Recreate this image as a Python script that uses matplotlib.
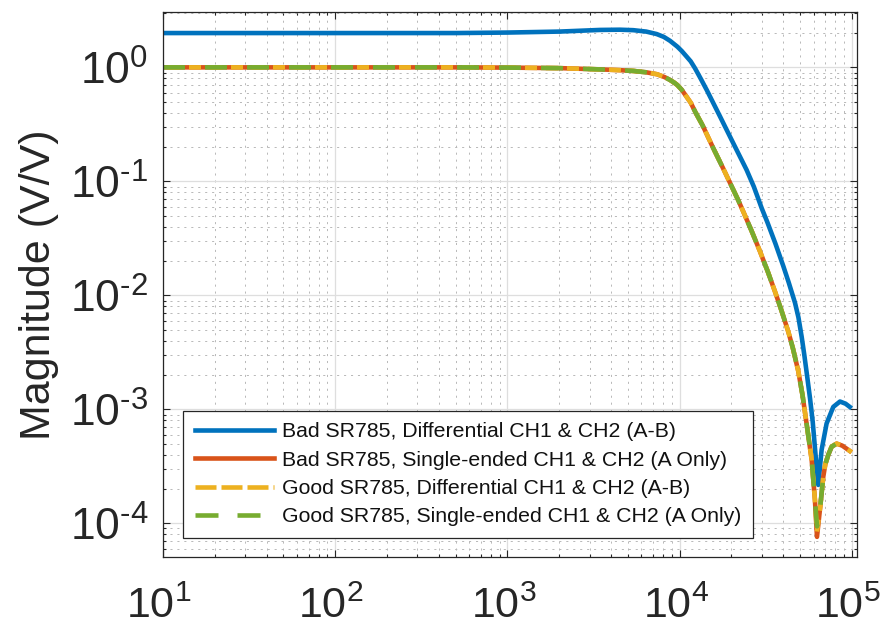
import matplotlib
matplotlib.use("Agg")
import matplotlib.pyplot as plt
import matplotlib.transforms as mtransforms
from matplotlib.lines import Line2D
from matplotlib.ticker import LogLocator, FixedLocator, FixedFormatter, NullFormatter

# ---------------- data ----------------
freq_bad_diff = [10, 100, 500, 1000, 2000, 3450, 4500, 5380, 6400, 7360, 8100, 8800,
                 9700, 10300, 11000, 11600, 12300, 13300, 14400, 17200, 20500, 24500,
                 27000, 30000, 32300, 36000, 40000, 43000, 46800, 49000, 51200, 53000,
                 54700, 57200, 59300, 61100, 63000, 63900, 66800, 71400, 78100, 85400,
                 92000, 99800]
mag_bad_diff = [2.0, 2.0, 2.0, 2.02, 2.06, 2.13, 2.14, 2.12, 2.06, 1.96, 1.85, 1.71,
                1.52, 1.39, 1.24, 1.13, 0.98, 0.79, 0.63, 0.369, 0.216, 0.126,
                0.0897, 0.058, 0.044, 0.0285, 0.0181, 0.013, 0.0086, 0.0064, 0.0043,
                0.0030, 0.0021, 0.00125, 0.00078, 0.00046, 0.000265, 0.000217,
                0.00044, 0.00075, 0.00105, 0.00117, 0.00112, 0.00102]

freq_se = [10, 100, 500, 1000, 2000, 3450, 4500, 5400, 6400, 7400, 8200, 8800, 9300,
           9700, 10300, 11000, 11600, 12400, 13600, 15700, 17900, 19200, 21900, 23500,
           26200, 29300, 32500, 35800, 39000, 42800, 45500, 48900, 51800, 54700, 58500,
           61100, 62800, 65600, 68300, 70200, 73100, 76400, 81700, 88000, 99800]
mag_bad_se = [1.0, 1.0, 1.0, 0.995, 0.985, 0.96, 0.945, 0.93, 0.905, 0.87, 0.82, 0.775,
              0.735, 0.70, 0.635, 0.55, 0.49, 0.40, 0.31, 0.195, 0.13, 0.104, 0.0684,
              0.0537, 0.0367, 0.0243, 0.0162, 0.0108, 0.0074, 0.00479, 0.00343,
              0.00216, 0.00132, 0.00074, 0.00036, 0.00016, 7.6e-5, 1.4e-4, 2.56e-4,
              3.3e-4, 4.0e-4, 4.7e-4, 5.0e-4, 4.8e-4, 4.2e-4]
mag_good_diff = [1.0, 1.0, 1.0, 0.995, 0.985, 0.96, 0.945, 0.93, 0.905, 0.87, 0.82, 0.775,
                 0.735, 0.70, 0.635, 0.55, 0.49, 0.40, 0.31, 0.195, 0.13, 0.104, 0.0684,
                 0.0537, 0.0367, 0.0243, 0.0162, 0.0108, 0.0074, 0.00479, 0.00343,
                 0.00216, 0.00132, 0.00074, 0.00036, 0.00016, 8.4e-5, 1.4e-4, 2.56e-4,
                 3.3e-4, 4.0e-4, 4.7e-4, 5.0e-4, 4.8e-4, 4.2e-4]
mag_good_se = [1.0, 1.0, 1.0, 0.995, 0.985, 0.96, 0.945, 0.93, 0.905, 0.87, 0.82, 0.775,
               0.735, 0.70, 0.635, 0.55, 0.49, 0.40, 0.31, 0.195, 0.13, 0.104, 0.0684,
               0.0537, 0.0367, 0.0243, 0.0162, 0.0108, 0.0074, 0.00479, 0.00343,
               0.00216, 0.00132, 0.00074, 0.00036, 0.00016, 9.4e-5, 1.4e-4, 2.56e-4,
               3.3e-4, 4.0e-4, 4.7e-4, 5.0e-4, 4.8e-4, 4.2e-4]

labels = ["Bad SR785, Differential CH1 & CH2 (A-B)",
          "Bad SR785, Single-ended CH1 & CH2 (A Only)",
          "Good SR785, Differential CH1 & CH2 (A-B)",
          "Good SR785, Single-ended CH1 & CH2 (A Only)"]
xtick_vals = [1e1, 1e2, 1e3, 1e4, 1e5]
xtick_labels = ["$10^{1}$", "$10^{2}$", "$10^{3}$", "$10^{4}$", "$10^{5}$"]
ytick_vals = [1e-4, 1e-3, 1e-2, 1e-1, 1e0]
ytick_labels = ["$10^{\u20104}$", "$10^{\u20103}$", "$10^{\u20102}$",
                "$10^{\u20101}$", "$10^{0}$"]

# ---------------- style ----------------
plt.rcParams['font.family'] = ['Liberation Sans', 'DejaVu Sans']
plt.rcParams['mathtext.fontset'] = 'custom'
plt.rcParams['mathtext.rm'] = 'Liberation Sans'
plt.rcParams['mathtext.it'] = 'Liberation Sans'
plt.rcParams['mathtext.bf'] = 'Liberation Sans'
plt.rcParams['lines.scale_dashes'] = False

c_blue, c_red, c_yel, c_grn = '#0072BD', '#D95319', '#EDB120', '#77AC30'
axcol = '#262626'
px = 0.72  # points per pixel at dpi 100
lw = 3.3

fig = plt.figure(figsize=(8.85, 6.29), dpi=100)
ax = fig.add_axes([163/885, 1 - 557/629, (856.7-163)/885, (557-12)/629])
ax.set_xscale('log')
ax.set_yscale('log')

ax.plot(freq_bad_diff, mag_bad_diff, color=c_blue, lw=lw, solid_capstyle='butt')
ax.plot(freq_se, mag_bad_se, color=c_red, lw=lw, solid_capstyle='butt')
ax.plot(freq_se, mag_good_diff, color=c_yel, lw=lw,
        ls=(16*px, (12*px, 9*px)), dash_capstyle='butt')
ax.plot(freq_se, mag_good_se, color=c_grn, lw=lw,
        ls=(0, (22*px, 20*px)), dash_capstyle='butt')

ax.set_xlim(10, 1.068e5)
ax.set_ylim(5.06e-5, 3.06)

ax.xaxis.set_major_locator(FixedLocator(xtick_vals))
ax.xaxis.set_major_formatter(FixedFormatter(xtick_labels))
ax.yaxis.set_major_locator(FixedLocator(ytick_vals))
ax.yaxis.set_major_formatter(FixedFormatter(ytick_labels))
ax.xaxis.set_minor_locator(LogLocator(base=10, subs=range(2, 10), numticks=20))
ax.yaxis.set_minor_locator(LogLocator(base=10, subs=range(2, 10), numticks=20))
ax.xaxis.set_minor_formatter(NullFormatter())
ax.yaxis.set_minor_formatter(NullFormatter())

ax.grid(True, which='major', color='#dedede', lw=0.9, ls='-')
ax.grid(True, which='minor', color='#b8b8b8', lw=0.7, ls=(0, (1.5, 3.5)))
ax.set_axisbelow(True)

ax.tick_params(which='both', direction='in', top=True, right=True, colors=axcol,
               width=0.8)
ax.tick_params(which='major', length=5)
ax.tick_params(which='minor', length=2.5)
ax.tick_params(axis='x', which='major', labelsize=31, pad=21)
ax.tick_params(axis='y', which='major', labelsize=32, pad=10.5)
for s in ax.spines.values():
    s.set_color(axcol)
    s.set_linewidth(0.9)

# shift x tick labels slightly left, as in the reference
shift = mtransforms.ScaledTranslation(-4/100, 0, fig.dpi_scale_trans)
for lab in ax.get_xticklabels():
    lab.set_transform(lab.get_transform() + shift)

ax.set_ylabel("Magnitude (V/V)", fontsize=31, color=axcol, labelpad=8)

handles = [Line2D([], [], color=c_blue, lw=lw),
           Line2D([], [], color=c_red, lw=lw),
           Line2D([], [], color=c_yel, lw=lw, ls=(0, (21*px, 5*px)), dash_capstyle='butt'),
           Line2D([], [], color=c_grn, lw=lw, ls=(0, (23*px, 19*px)), dash_capstyle='butt')]
leg = ax.legend(handles, labels, loc='lower left', bbox_to_anchor=(0.0288, 0.0349),
                borderaxespad=0, fontsize=15.3, handlelength=3.75, handletextpad=0.38,
                borderpad=0.55, labelspacing=0.44, fancybox=False, framealpha=1,
                edgecolor=axcol)
leg.get_frame().set_linewidth(0.9)
for t in leg.get_texts():
    t.set_color('#111111')

fig.savefig("out.png", dpi=100)
